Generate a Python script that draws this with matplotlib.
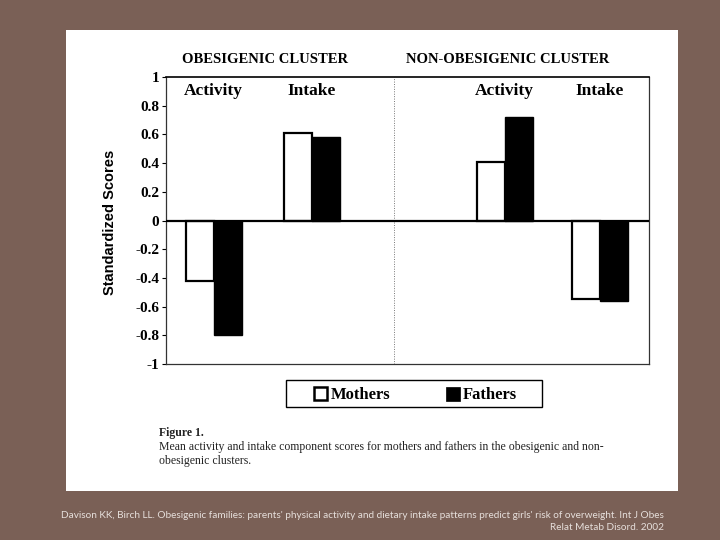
import matplotlib.pyplot as plt
from matplotlib.patches import Rectangle

# data
groups = ['Activity', 'Intake', 'Activity', 'Intake']
group_x = [1.7, 5.2, 12.1, 15.5]
mothers = [-0.42, 0.61, 0.41, -0.55]
fathers = [-0.80, 0.58, 0.72, -0.56]
clusters = ['OBESIGENIC CLUSTER', 'NON-OBESIGENIC CLUSTER']
series = ['Mothers', 'Fathers']
yticks = [1, 0.8, 0.6, 0.4, 0.2, 0, -0.2, -0.4, -0.6, -0.8, -1]

bg = '#7a6056'
serif = 'Liberation Serif'
W, H = 720.0, 540.0

fig = plt.figure(figsize=(7.2, 5.4), dpi=100, facecolor=bg)


def px_rect(x0, y0, x1, y1, **kw):
    # rectangle given in pixel coords (origin top-left)
    r = Rectangle((x0 / W, 1 - y1 / H), (x1 - x0) / W, (y1 - y0) / H,
                  transform=fig.transFigure, **kw)
    fig.patches.append(r)
    return r


# white page
px_rect(66, 30, 678, 491, facecolor='white', edgecolor='none', zorder=-5)

ax = fig.add_axes([0.2306, 0.3259, 0.6708, 0.5315])
ax.set_facecolor('white')
w = 1.0
ax.bar([x - w / 2 for x in group_x], mothers, width=w, facecolor='white',
       edgecolor='black', linewidth=1.6, zorder=3)
ax.bar([x + w / 2 for x in group_x], fathers, width=w, facecolor='black',
       edgecolor='black', linewidth=1.0, zorder=3)
ax.axhline(0, color='black', linewidth=1.6, zorder=4)
ax.axvline(8.15, color='#777777', linewidth=0.7, linestyle=(0, (1, 1.5)), zorder=1)

ax.set_xlim(0, 17.25)
ax.set_ylim(-1, 1)
ax.set_xticks([])
ax.set_yticks(yticks)
ax.set_yticklabels(['%g' % v for v in yticks], fontfamily=serif, fontweight='bold', fontsize=11)
ax.tick_params(axis='y', direction='out', length=3, width=0.8, pad=2)
for s in ax.spines.values():
    s.set_linewidth(0.9)
    s.set_color('#333333')
ax.spines['top'].set_color('black')
ax.spines['top'].set_linewidth(1.2)

for x, g in zip(group_x, groups):
    ax.text(x, 0.9, g, ha='center', va='center', fontfamily=serif,
            fontweight='bold', fontsize=12.5)

ax.text(3.55, 1.12, clusters[0], ha='center', va='center', fontfamily=serif,
        fontweight='bold', fontsize=10.5)
ax.text(12.2, 1.12, clusters[1], ha='center', va='center', fontfamily=serif,
        fontweight='bold', fontsize=10.5)

fig.text(0.153, 0.589, 'Standardized Scores', rotation=90, ha='center', va='center',
         fontfamily='Liberation Sans', fontweight='bold', fontsize=10.5)

# legend box drawn by hand
px_rect(286, 380, 542, 407, facecolor='white', edgecolor='black', linewidth=1.0, zorder=5)
px_rect(314, 387, 327, 400, facecolor='white', edgecolor='black', linewidth=1.8, zorder=6)
px_rect(446, 387, 460, 401, facecolor='black', edgecolor='black', linewidth=0.5, zorder=6)
fig.text(331 / W, 1 - 395 / H, series[0], ha='left', va='center', fontfamily=serif,
         fontweight='bold', fontsize=12, zorder=7)
fig.text(463 / W, 1 - 395 / H, series[1], ha='left', va='center', fontfamily=serif,
         fontweight='bold', fontsize=12, zorder=7)

fig.text(0.221, 1 - 433 / H, 'Figure 1.', ha='left', va='center', fontfamily=serif,
         fontweight='bold', fontsize=8.5, color='#222222')
fig.text(0.221, 1 - 447 / H, 'Mean activity and intake component scores for mothers and fathers in the obesigenic and non-',
         ha='left', va='center', fontfamily=serif, fontsize=8.5, color='#222222')
fig.text(0.221, 1 - 461 / H, 'obesigenic clusters.', ha='left', va='center', fontfamily=serif,
         fontsize=8.5, color='#222222')

fig.text(0.922, 1 - 515 / H,
         "Davison KK, Birch LL. Obesigenic families: parents' physical activity and dietary intake patterns predict girls' risk of overweight. Int J Obes",
         ha='right', va='center', fontfamily='Lato', fontsize=7.2, color='#e6dfdb')
fig.text(0.922, 1 - 528 / H, 'Relat Metab Disord. 2002', ha='right', va='center',
         fontfamily='Lato', fontsize=7.2, color='#e6dfdb')

fig.savefig('out.png', dpi=100, facecolor=bg)
